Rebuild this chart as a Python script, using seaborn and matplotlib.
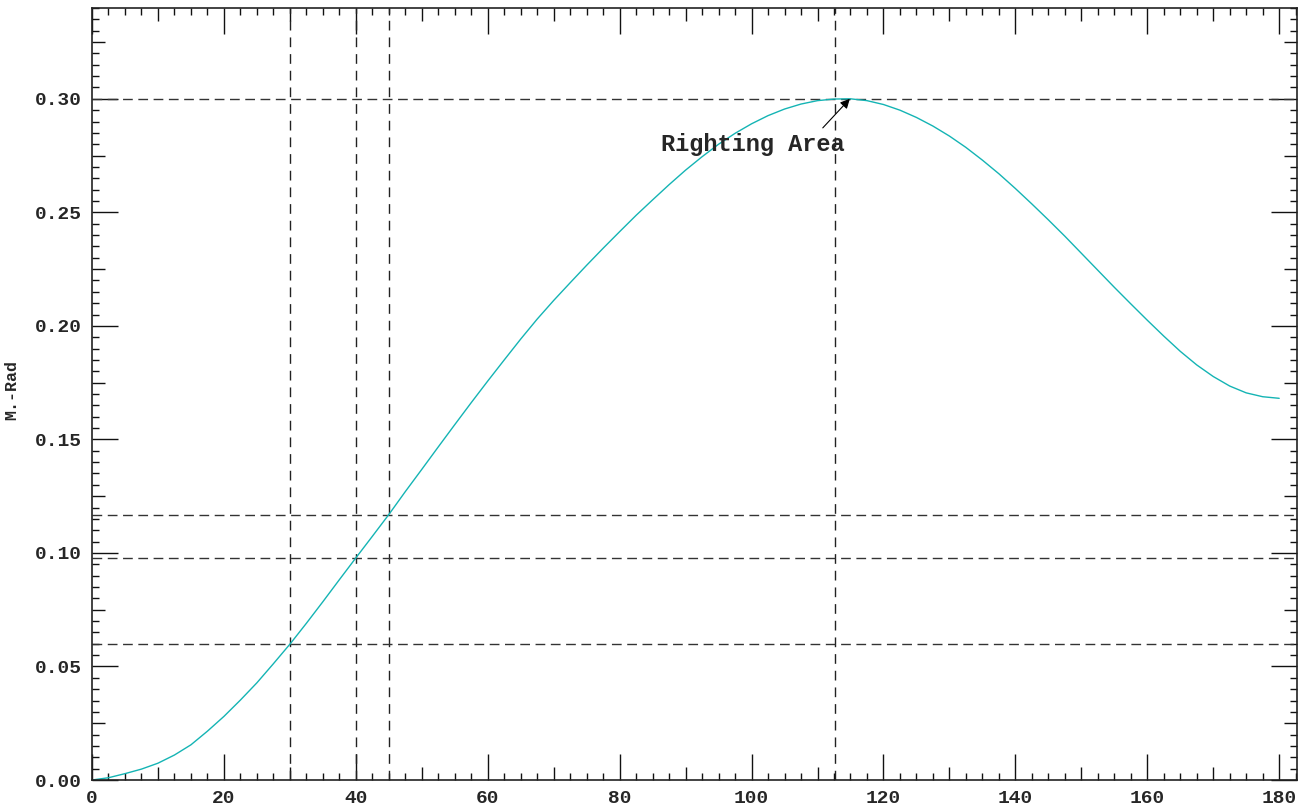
import numpy as np
import pandas as pd
import matplotlib
matplotlib.use("Agg")
import matplotlib.pyplot as plt
import seaborn as sns

# ---- data ----
heel_deg = [0, 2.5, 5, 7.5, 10, 12.5, 15, 17.5, 20, 22.5, 25, 27.5, 30, 32.5, 35,
            37.5, 40, 42.5, 45, 47.5, 50, 52.5, 55, 57.5, 60, 62.5, 65, 67.5, 70,
            72.5, 75, 77.5, 80, 82.5, 85, 87.5, 90, 92.5, 95, 97.5, 100, 102.5,
            105, 107.5, 110, 112.5, 115, 117.5, 120, 122.5, 125, 127.5, 130, 132.5,
            135, 137.5, 140, 142.5, 145, 147.5, 150, 152.5, 155, 157.5, 160, 162.5,
            165, 167.5, 170, 172.5, 175, 177.5, 180]
righting = [0.0000, 0.0010, 0.0028, 0.0048, 0.0074, 0.0110, 0.0155, 0.0215, 0.0280,
            0.0352, 0.0428, 0.0512, 0.0598, 0.0690, 0.0785, 0.0882, 0.0978, 0.1073,
            0.1169, 0.1270, 0.1368, 0.1467, 0.1565, 0.1662, 0.1757, 0.1850, 0.1942,
            0.2030, 0.2112, 0.2190, 0.2267, 0.2342, 0.2415, 0.2487, 0.2555, 0.2622,
            0.2686, 0.2745, 0.2800, 0.2848, 0.2890, 0.2926, 0.2955, 0.2977, 0.2992,
            0.2999, 0.3000, 0.2992, 0.2975, 0.2950, 0.2918, 0.2880, 0.2836, 0.2786,
            0.2730, 0.2670, 0.2605, 0.2537, 0.2467, 0.2395, 0.2320, 0.2245, 0.2170,
            0.2097, 0.2025, 0.1955, 0.1888, 0.1828, 0.1777, 0.1735, 0.1705, 0.1688,
            0.1681]
vert_lines = [30, 40, 45, 112.7]
horiz_lines = [0.0598, 0.0978, 0.1169, 0.300]
x_ticks = [0, 20, 40, 60, 80, 100, 120, 140, 160, 180]
y_ticks = [0.00, 0.05, 0.10, 0.15, 0.20, 0.25, 0.30]
annot_text = "Righting Area"
annot_tip = (114.9, 0.300)
annot_tail = (110.8, 0.2872)
annot_pos = (100.2, 0.2800)
y_label = "M.-Rad"

sns.set_style("white")
plt.rcParams['font.family'] = ['Liberation Mono', 'DejaVu Sans']

fig = plt.figure(figsize=(13.05, 8.05), dpi=100)
ax = fig.add_axes([92 / 1305, 1 - 780 / 805, (1297 - 92) / 1305, (780 - 8) / 805])

df = pd.DataFrame({"heel": heel_deg, "rm": righting})
sns.lineplot(data=df, x="heel", y="rm", ax=ax, color="#14b4b4", linewidth=1.0)

for xv in vert_lines:
    ax.axvline(xv, color="#222222", linestyle=(0, (7, 5)), linewidth=1.0, zorder=1)
for yv in horiz_lines:
    ax.axhline(yv, color="#333333", linestyle=(0, (7, 4)), linewidth=1.0, zorder=1)

ax.set_xlim(0, 182.7)
ax.set_ylim(0, 0.340)

# ticks
ax.set_xticks(x_ticks)
ax.set_xticklabels([f"{v:d}" for v in x_ticks])
ax.set_xticks(np.arange(0, 182.6, 2.5), minor=True)
ax.set_yticks(y_ticks)
ax.set_yticklabels([f"{v:.2f}" for v in y_ticks])
ax.set_yticks(np.arange(0, 0.3401, 0.005), minor=True)

ax.tick_params(axis="both", which="major", direction="in", length=18.5, width=1.0,
               color="#111111", top=True, right=True, bottom=True, left=True,
               labelsize=14, pad=7)
ax.tick_params(axis="both", which="minor", direction="in", length=5, width=1.0,
               color="#111111", top=True, right=True, bottom=True, left=True)
for lab in ax.get_xticklabels() + ax.get_yticklabels():
    lab.set_fontweight("bold")

fig.canvas.draw()
# medium ticks at multiples of 10 (x) and 0.025 (y)
for t in ax.xaxis.get_minor_ticks():
    v = t.get_loc()
    if abs(v / 10 - round(v / 10)) < 1e-6:
        t.tick1line.set_markersize(9.4)
        t.tick2line.set_markersize(9.4)
for t in ax.yaxis.get_minor_ticks():
    v = t.get_loc()
    if abs(v / 0.025 - round(v / 0.025)) < 1e-6:
        t.tick1line.set_markersize(9.4)
        t.tick2line.set_markersize(9.4)

for s in ax.spines.values():
    s.set_color("#222222")
    s.set_linewidth(1.2)
    s.set_visible(True)

ax.set_xlabel("")
ax.set_ylabel(y_label, fontsize=12, fontweight="bold")
ax.yaxis.set_label_coords(-0.060, 0.505)

ax.annotate("", xy=annot_tip, xytext=annot_tail,
            arrowprops=dict(arrowstyle="-|>", color="black", lw=0.8,
                            mutation_scale=14, shrinkA=0, shrinkB=0))
ax.text(annot_pos[0], annot_pos[1], annot_text, ha="center", va="center",
        fontsize=17, fontweight="bold", family=["Liberation Mono", "DejaVu Sans"])

fig.savefig("out.png", dpi=100, facecolor="white")
